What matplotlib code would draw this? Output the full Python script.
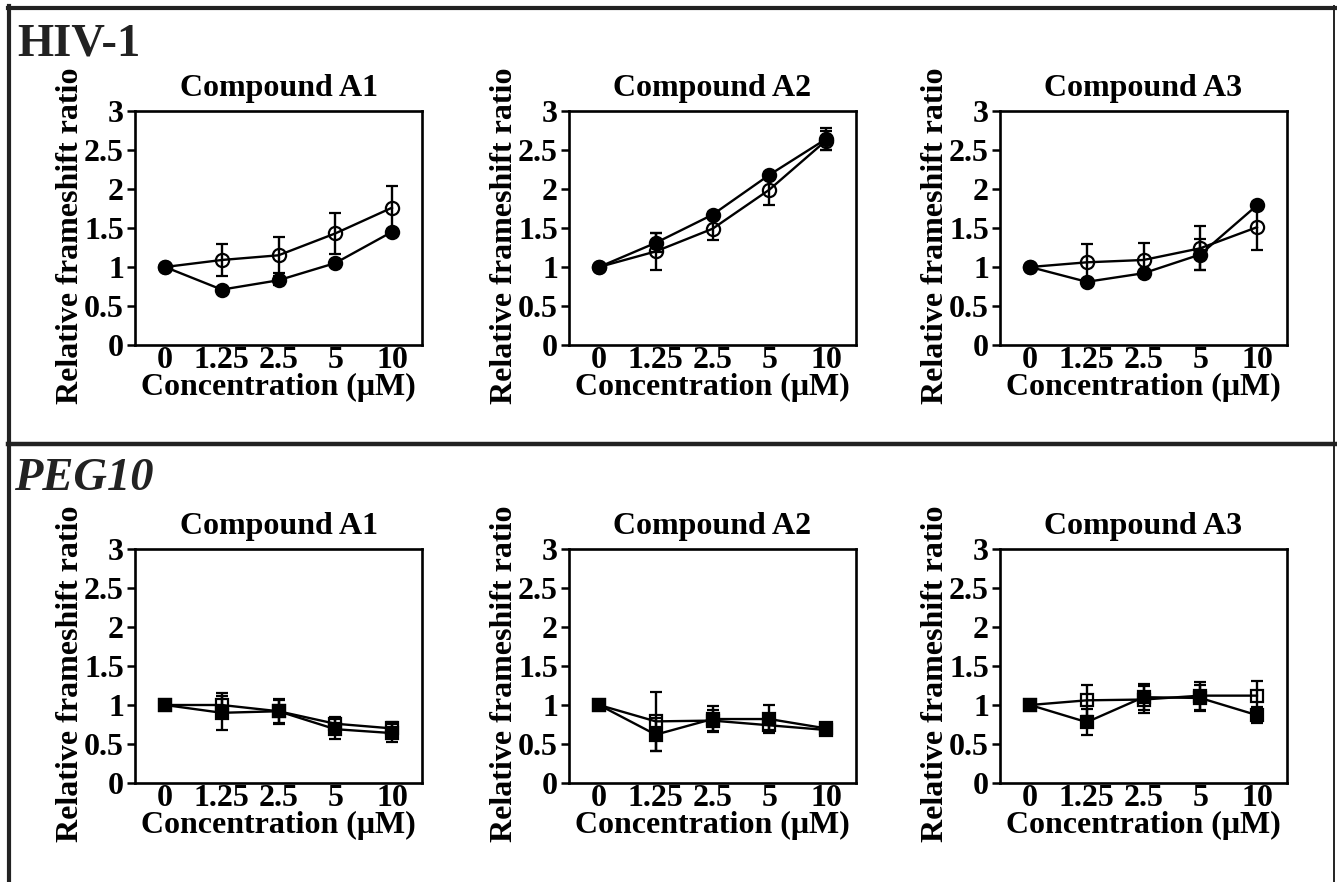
import matplotlib
matplotlib.use("Agg")
import matplotlib.pyplot as plt
from matplotlib.lines import Line2D

plt.rcParams['font.family'] = ['Liberation Serif', 'DejaVu Serif']
plt.rcParams['font.weight'] = 'bold'

categories = ['0', '1.25', '2.5', '5', '10']
titles = ['Compound A1', 'Compound A2', 'Compound A3']
y_ticks = [0, 0.5, 1, 1.5, 2, 2.5, 3]
y_tick_labels = ['0', '0.5', '1', '1.5', '2', '2.5', '3']

# HIV-1 (circles): filled and open series, with error bars
hiv_a1_filled = [1.0, 0.71, 0.83, 1.05, 1.45]
hiv_a1_filled_err = [0.0, 0.03, 0.06, 0.04, 0.04]
hiv_a1_open = [1.0, 1.09, 1.15, 1.43, 1.76]
hiv_a1_open_err = [0.0, 0.20, 0.23, 0.26, 0.28]

hiv_a2_filled = [1.0, 1.31, 1.67, 2.18, 2.64]
hiv_a2_filled_err = [0.0, 0.12, 0.04, 0.04, 0.14]
hiv_a2_open = [1.0, 1.20, 1.49, 1.99, 2.62]
hiv_a2_open_err = [0.0, 0.24, 0.14, 0.20, 0.12]

hiv_a3_filled = [1.0, 0.81, 0.92, 1.16, 1.79]
hiv_a3_filled_err = [0.0, 0.03, 0.03, 0.20, 0.04]
hiv_a3_open = [1.0, 1.06, 1.09, 1.24, 1.51]
hiv_a3_open_err = [0.0, 0.23, 0.22, 0.28, 0.29]

# PEG10 (squares)
peg_a1_filled = [1.0, 0.90, 0.92, 0.69, 0.64]
peg_a1_filled_err = [0.0, 0.22, 0.16, 0.13, 0.12]
peg_a1_open = [1.0, 1.0, 0.92, 0.76, 0.70]
peg_a1_open_err = [0.0, 0.16, 0.15, 0.09, 0.08]

peg_a2_filled = [1.0, 0.62, 0.82, 0.82, 0.70]
peg_a2_filled_err = [0.0, 0.21, 0.17, 0.18, 0.05]
peg_a2_open = [1.0, 0.79, 0.80, 0.74, 0.68]
peg_a2_open_err = [0.0, 0.38, 0.13, 0.06, 0.05]

peg_a3_filled = [1.0, 0.78, 1.10, 1.09, 0.87]
peg_a3_filled_err = [0.0, 0.17, 0.17, 0.17, 0.10]
peg_a3_open = [1.0, 1.06, 1.07, 1.12, 1.12]
peg_a3_open_err = [0.0, 0.20, 0.17, 0.18, 0.19]

hiv_sets = [
    (hiv_a1_filled, hiv_a1_filled_err, hiv_a1_open, hiv_a1_open_err),
    (hiv_a2_filled, hiv_a2_filled_err, hiv_a2_open, hiv_a2_open_err),
    (hiv_a3_filled, hiv_a3_filled_err, hiv_a3_open, hiv_a3_open_err),
]
peg_sets = [
    (peg_a1_filled, peg_a1_filled_err, peg_a1_open, peg_a1_open_err),
    (peg_a2_filled, peg_a2_filled_err, peg_a2_open, peg_a2_open_err),
    (peg_a3_filled, peg_a3_filled_err, peg_a3_open, peg_a3_open_err),
]

W, H = 1337, 882
fig = plt.figure(figsize=(W / 100, H / 100), dpi=100)

col_x = [135, 569, 1000]
ax_w = 287
row_tops = [111, 549]
ax_h = 234

FS = 23
x = list(range(len(categories)))


def draw(ax, data, marker, ms):
    filled, filled_err, opn, opn_err = data
    ax.errorbar(x, opn, yerr=opn_err, color='black', lw=1.7, marker=marker,
                ms=ms, mfc='none', mec='black', mew=1.6, capsize=4.5,
                capthick=1.7, elinewidth=1.7, zorder=3)
    ax.errorbar(x, filled, yerr=filled_err, color='black', lw=1.7, marker=marker,
                ms=ms, mfc='black', mec='black', mew=1.6, capsize=4.5,
                capthick=1.7, elinewidth=1.7, zorder=4)
    ax.set_xlim(-0.53, 4.53)
    ax.set_ylim(0, 3)
    ax.set_yticks(y_ticks)
    ax.set_yticklabels(y_tick_labels, fontsize=FS, fontweight='bold')
    ax.set_xticks(x)
    ax.set_xticklabels(categories, fontsize=FS, fontweight='bold')
    ax.tick_params(axis='x', length=0, pad=1)
    ax.tick_params(axis='y', direction='out', length=6, width=1.8, pad=2)
    for s in ax.spines.values():
        s.set_linewidth(1.9)
    ax.set_xlabel('Concentration (μM)', fontsize=FS, fontweight='bold', labelpad=-2)
    ax.set_ylabel('Relative frameshift ratio', fontsize=FS, fontweight='bold', labelpad=-0.5)
    ax.yaxis.label.set_y(0.465)


for r, (sets, marker, ms) in enumerate([(hiv_sets, 'o', 9.5), (peg_sets, 's', 8.5)]):
    for c in range(3):
        left = col_x[c] / W
        bottom = 1 - (row_tops[r] + ax_h) / H
        ax = fig.add_axes([left, bottom, ax_w / W, ax_h / H])
        draw(ax, sets[c], marker, ms)
        ax.set_title(titles[c], fontsize=FS, fontweight='bold', pad=11)

# Section headers
fig.text(17 / W, 1 - 55 / H, 'HIV-1', fontsize=33.5, fontweight='bold',
         color='#222222', va='baseline', ha='left')
fig.text(14 / W, 1 - 490 / H, 'PEG10', fontsize=33.5, fontweight='bold',
         style='italic', color='#222222', va='baseline', ha='left')

# Frame lines
fc = '#222222'
fig.add_artist(Line2D([8 / W, 1335 / W], [1 - 7.5 / H, 1 - 7.5 / H], color=fc, lw=3.0))
fig.add_artist(Line2D([8.5 / W, 8.5 / W], [0, 1 - 6 / H], color=fc, lw=3.0))
fig.add_artist(Line2D([1334 / W, 1334 / W], [0, 1 - 6 / H], color=fc, lw=1.4))
fig.add_artist(Line2D([8 / W, 1335 / W], [1 - 444 / H, 1 - 444 / H], color=fc, lw=3.2))

fig.savefig('out.png', dpi=100, facecolor='white')
